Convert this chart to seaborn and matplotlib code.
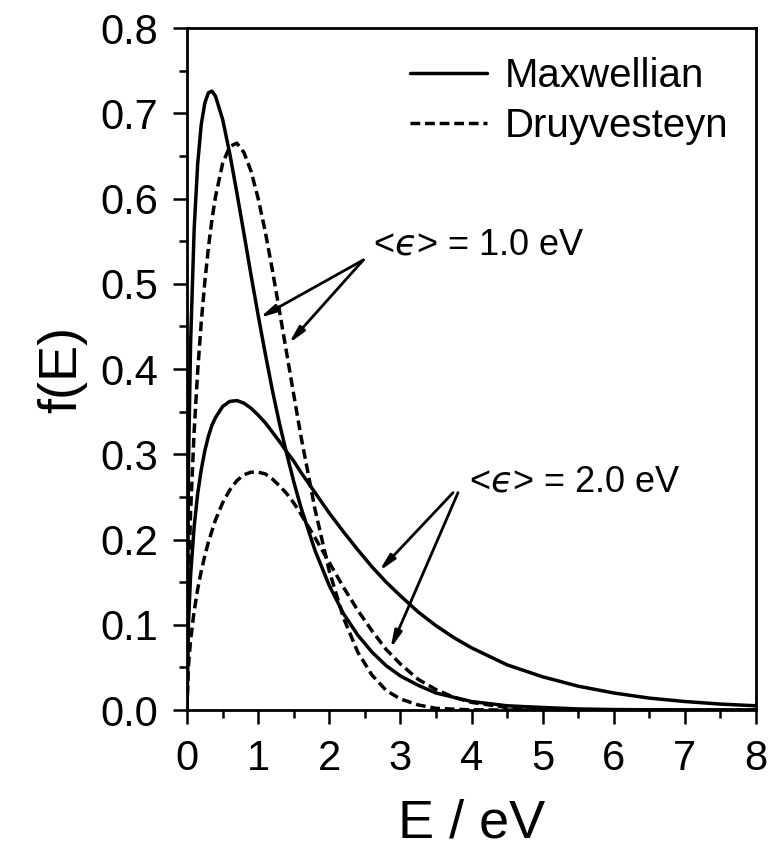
import pandas as pd
import matplotlib
matplotlib.use("Agg")
from matplotlib import pyplot as plt
from matplotlib.ticker import MultipleLocator
import seaborn as sns

# energies (eV) and distribution values
ENERGY = [0, 0.02, 0.05, 0.1, 0.15, 0.2, 0.25, 0.3, 0.35, 0.4, 0.5, 0.6, 0.7, 0.8, 0.9,
          1.0, 1.1, 1.2, 1.3, 1.4, 1.5, 1.6, 1.8, 2.0, 2.2, 2.4, 2.6, 2.8, 3.0, 3.25,
          3.5, 3.75, 4.0, 4.5, 5.0, 5.5, 6.0, 6.5, 7.0, 7.5, 8.0]

MAXW_1EV = [0, .285, .430, .564, .641, .687, .712, .724, .726, .720, .693, .653, .607, .559, .510,
            .463, .418, .375, .336, .301, .268, .238, .187, .146, .113, .088, .068, .052, .040, .029,
            .020, .015, .010, .005, .003, .0013, .0006, .0003, .0001, 0, 0]
MAXW_2EV = [0, .102, .158, .215, .254, .282, .304, .321, .334, .343, .356, .362, .363, .360, .354,
            .346, .337, .326, .315, .303, .292, .279, .255, .231, .209, .188, .168, .150, .134, .115,
            .099, .085, .073, .053, .039, .028, .020, .014, .010, .007, .005]
DRUY_1EV = [0, .147, .232, .327, .398, .455, .502, .542, .575, .602, .641, .661, .665, .654, .632,
            .600, .561, .516, .468, .419, .370, .322, .235, .163, .108, .068, .041, .023, .013, .006,
            .002, .001, .0003, 0, 0, 0, 0, 0, 0, 0, 0]
DRUY_2EV = [0, .052, .082, .116, .142, .163, .181, .197, .210, .223, .243, .258, .269, .276, .279,
            .279, .277, .271, .263, .254, .243, .230, .202, .173, .144, .117, .093, .071, .054, .036,
            .024, .015, .009, .003, .001, .0002, 0, 0, 0, 0, 0]

sns.set_style("ticks", {'axes.edgecolor': 'black', 'text.color': 'black',
                        'axes.labelcolor': 'black', 'xtick.color': 'black',
                        'ytick.color': 'black'})
plt.rcParams['font.family'] = ['Liberation Sans', 'DejaVu Sans']

fig = plt.figure(figsize=(7.7, 8.59), dpi=100)
ax = fig.add_axes([0.2429, 0.1734, 0.7390, 0.7940])

dash = (0, (2.8, 1.4))
curves = [
    (MAXW_1EV, '-', 'Maxwellian'),
    (DRUY_1EV, dash, 'Druyvesteyn'),
    (MAXW_2EV, '-', None),
    (DRUY_2EV, dash, None),
]
for vals, ls, lab in curves:
    df = pd.DataFrame({'E': ENERGY, 'f': vals})
    sns.lineplot(data=df, x='E', y='f', ax=ax, color='black', lw=2.5,
                 linestyle=ls, label=lab, legend=False)

ax.set_xlim(0, 8)
ax.set_ylim(0, 0.8)
ax.xaxis.set_major_locator(MultipleLocator(1))
ax.xaxis.set_minor_locator(MultipleLocator(0.5))
ax.yaxis.set_major_locator(MultipleLocator(0.1))
ax.yaxis.set_minor_locator(MultipleLocator(0.05))
ax.tick_params(which='major', direction='out', length=10, width=1.8, labelsize=30, pad=11)
ax.tick_params(which='minor', direction='out', length=5.5, width=1.8)
for s in ax.spines.values():
    s.set_linewidth(2.0)

ax.set_xlabel('E / eV', fontsize=39)
ax.set_ylabel('f(E)', fontsize=39)
ax.xaxis.set_label_coords(0.5, -0.13)
ax.yaxis.set_label_coords(-0.175, 0.5)

# annotations
eps = '$\u03f5$'
arrow = dict(arrowstyle='-|>,head_length=1.0,head_width=0.22', lw=2.0, color='black',
             shrinkA=0, shrinkB=0)
ax.text(2.62, 0.545, '<' + eps + '> = 1.0 eV', fontsize=26, va='center')
ax.annotate('', xy=(1.02, 0.46), xytext=(2.48, 0.528), arrowprops=arrow)
ax.annotate('', xy=(1.43, 0.43), xytext=(2.48, 0.528), arrowprops=arrow)
ax.text(3.96, 0.268, '<' + eps + '> = 2.0 eV', fontsize=26, va='center')
ax.annotate('', xy=(2.70, 0.163), xytext=(3.74, 0.255), arrowprops=arrow)
ax.annotate('', xy=(2.86, 0.072), xytext=(3.81, 0.255), arrowprops=arrow)

ax.legend(loc='upper left', bbox_to_anchor=(0.392, 0.958), frameon=False, fontsize=29,
          handlelength=1.9, handletextpad=0.45, labelspacing=0.3, borderpad=0, borderaxespad=0)

fig.savefig('out.png', dpi=100)
